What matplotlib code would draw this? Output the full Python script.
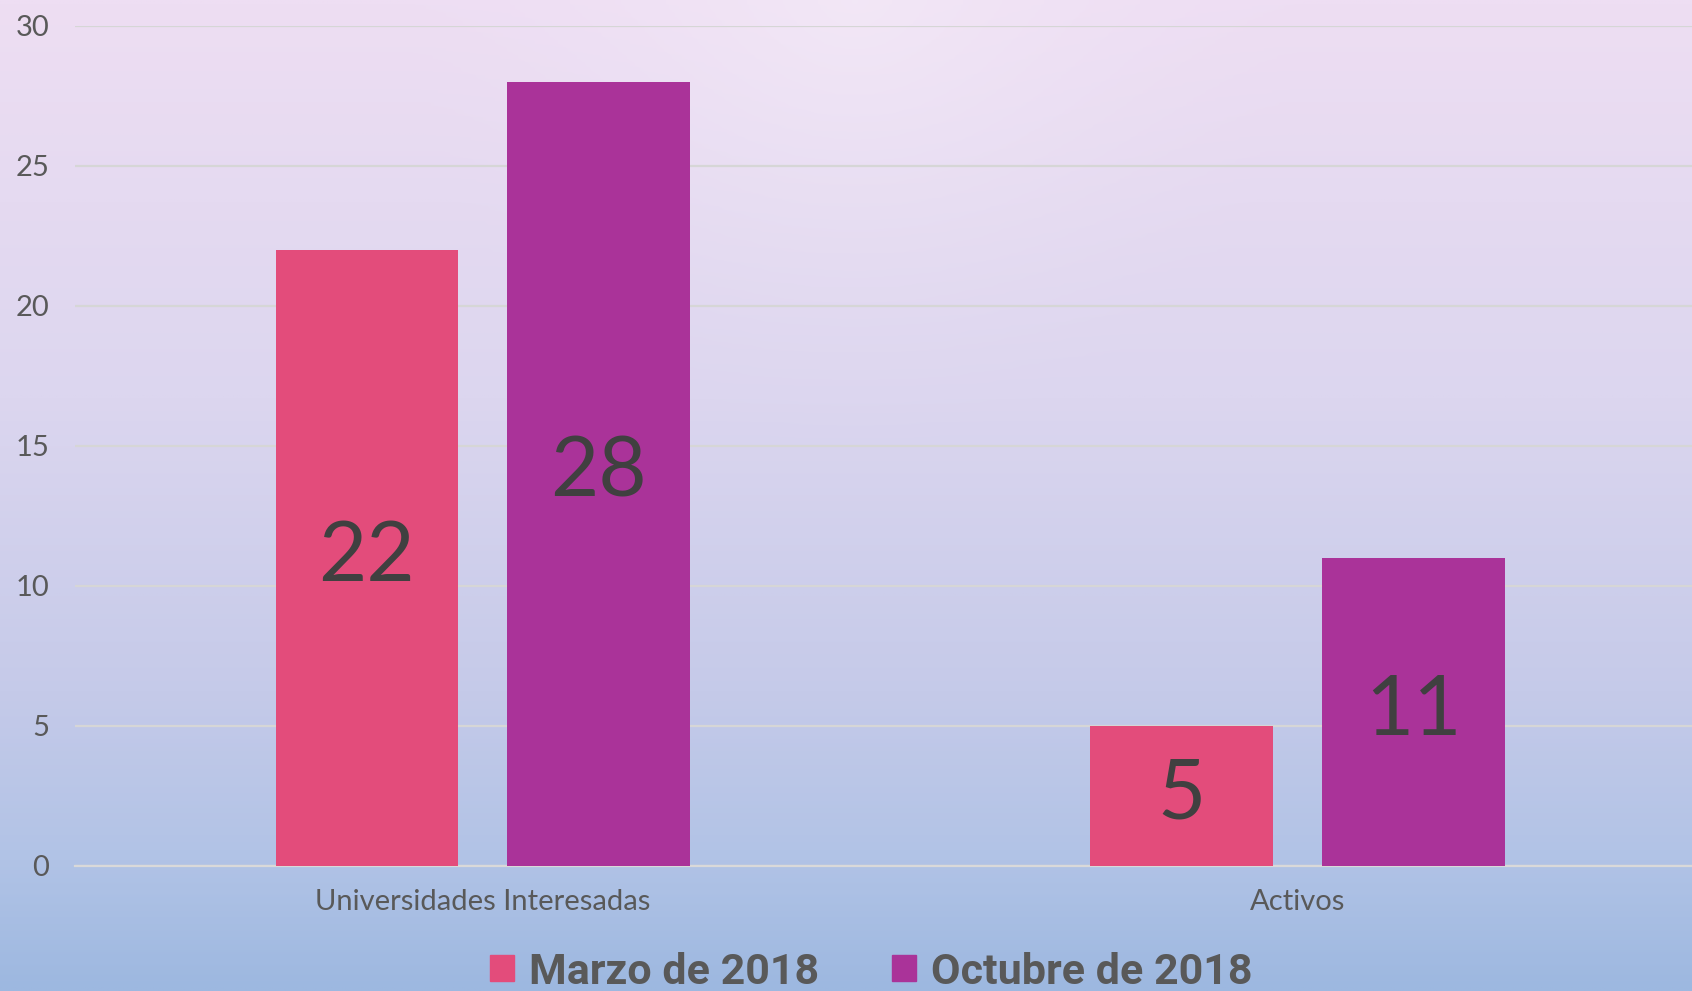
import numpy as np
import matplotlib
matplotlib.use("Agg")
import matplotlib.pyplot as plt
from matplotlib.colors import LinearSegmentedColormap, to_rgb
from matplotlib.patches import Patch


categories = ["Universidades Interesadas", "Activos"]
series_names = ["Marzo de 2018", "Octubre de 2018"]
marzo = [22, 5]
octubre = [28, 11]
y_ticks = [0, 5, 10, 15, 20, 25, 30]

PINK = "#E34C7B"
PURPLE = "#AA3399"
LABEL_DARK = "#404040"
TICK_GRAY = "#595959"

BASE_FONT = ["Lato", "DejaVu Sans"]
LEGEND_FONT = ["Liberation Sans Narrow", "Roboto", "DejaVu Sans"]

fig = plt.figure(figsize=(16.92, 9.91), dpi=100)

# background gradient (lavender top -> blue bottom) with a soft glow near the top
bg = fig.add_axes([0, 0, 1, 1], zorder=-10)
bg.axis("off")
h, w = 400, 680
yy, xx = np.mgrid[0:1:h * 1j, 0:1:w * 1j]
stops = [(0.0, "#EEDEF3"), (0.40, "#DCD6EF"), (0.70, "#C5CAE9"),
         (0.87, "#B1C3E6"), (1.0, "#9DB8E0")]
cmap = LinearSegmentedColormap.from_list("bg", stops)
img = cmap(yy)[..., :3]
dist = np.sqrt(((xx - 0.505) * 1.7) ** 2 + (yy * 1.0) ** 2)
glow = np.clip(1 - dist / 0.45, 0, 1) ** 1.5 * 0.35
white = np.array(to_rgb("#FBF8FC"))
img = img * (1 - glow[..., None]) + white * glow[..., None]
bg.imshow(img, extent=[0, 1, 0, 1], aspect="auto", origin="upper")
bg.set_xlim(0, 1)
bg.set_ylim(0, 1)

ax = fig.add_axes([0.0446, 0.1264, 0.963, 0.8476])
ax.patch.set_alpha(0)

x = np.arange(len(categories))
bar_w = 0.224
offset = 0.1423

b1 = ax.bar(x - offset, marzo, bar_w, color=PINK, zorder=3)
b2 = ax.bar(x + offset, octubre, bar_w, color=PURPLE, zorder=3)

for bars, vals in [(b1, marzo), (b2, octubre)]:
    for rect, v in zip(bars, vals):
        ax.text(rect.get_x() + rect.get_width() / 2, v / 2, str(v),
                ha="center", va="center", fontsize=60, color=LABEL_DARK,
                family=BASE_FONT, zorder=4)

ax.set_xlim(-0.5, 1.5)
ax.set_ylim(0, 30)
ax.set_yticks(y_ticks)
ax.set_xticks(x)
ax.set_xticklabels(categories)
ax.yaxis.grid(True, color="#D6D6D6", linewidth=1.6, zorder=0)
ax.set_axisbelow(True)
for side in ["top", "right", "left"]:
    ax.spines[side].set_visible(False)
ax.spines["bottom"].set_color("#D9D9D9")
ax.spines["bottom"].set_linewidth(1.6)
ax.tick_params(axis="both", length=0)
ax.tick_params(axis="y", pad=19, labelsize=21, labelcolor=TICK_GRAY)
ax.tick_params(axis="x", pad=17, labelsize=21, labelcolor=TICK_GRAY)
for lbl in ax.get_xticklabels() + ax.get_yticklabels():
    lbl.set_family(BASE_FONT)

handles = [Patch(color=PINK, label=series_names[0]),
           Patch(color=PURPLE, label=series_names[1])]
leg = fig.legend(handles=handles, loc="center", bbox_to_anchor=(0.515, 0.019),
                 ncol=2, frameon=False, handlelength=0.55, handleheight=0.55,
                 handletextpad=0.35, columnspacing=1.7,
                 prop={"family": LEGEND_FONT, "weight": "bold", "size": 31})
for t in leg.get_texts():
    t.set_color("#595959")

fig.savefig("out.png", dpi=100)
